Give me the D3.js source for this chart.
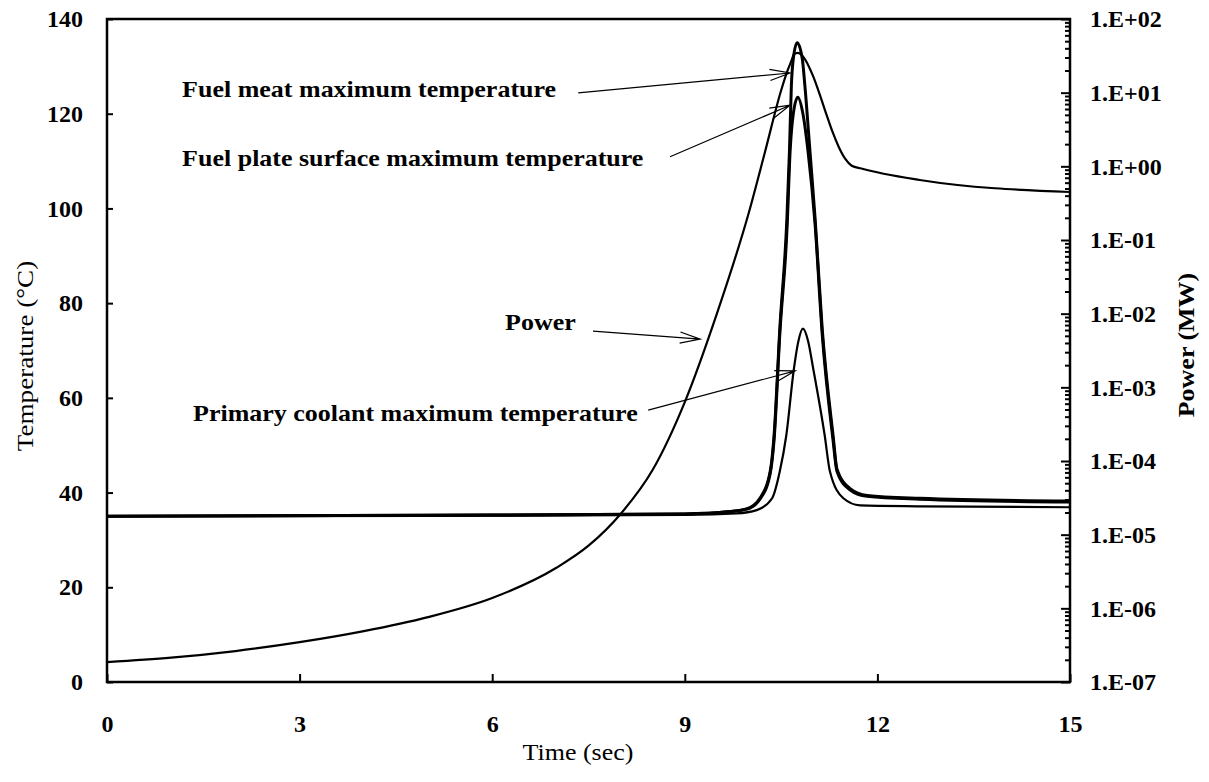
<!DOCTYPE html>
<html>
<head>
<meta charset="utf-8">
<script src="https://cdn.jsdelivr.net/npm/d3@7"></script>
<style>
  body { margin: 0; background: #fff; }
  text { font-family: 'Liberation Serif', 'Times New Roman', serif; fill: #000; }
</style>
</head>
<body>
<svg></svg>
<script>
// tick values
const timeTicks = [0, 3, 6, 9, 12, 15]
const tempTicks = [0, 20, 40, 60, 80, 100, 120, 140]
const powerTicks = [1e-7, 1e-6, 1e-5, 1e-4, 1e-3, 1e-2, 1e-1, 1e0, 1e1, 1e2]

// fuel meat maximum temperature (deg C)
const meatTime = [0, 5, 9, 9.7, 9.97, 10.17, 10.33, 10.39, 10.48, 10.59, 10.63, 10.66, 10.69, 10.75, 10.83, 10.87, 10.95, 11.03, 11.14, 11.31, 11.37, 11.57, 11.84, 12.66, 15]
const meatTemp = [35, 35.2, 35.5, 36, 36.6, 38.8, 44.5, 52, 74.6, 97.8, 112, 126, 131.6, 135, 131.6, 126, 112, 97.8, 74.6, 52, 45, 40.9, 39.4, 38.8, 38.2]

// fuel plate surface maximum temperature (deg C)
const surfTime = [0, 5, 9, 9.7, 9.97, 10.17, 10.33, 10.39, 10.48, 10.595, 10.64, 10.69, 10.76, 10.84, 10.92, 11.03, 11.14, 11.31, 11.37, 11.57, 11.84, 12.66, 15]
const surfTemp = [35, 35.2, 35.5, 36, 36.5, 38.6, 44, 51, 73.5, 96.5, 112, 120, 123.5, 120, 112, 96.5, 73.5, 51, 44.5, 40.6, 39.2, 38.6, 38.0]

// primary coolant maximum temperature (deg C)
const coolTime = [0, 5, 9, 9.8, 10.12, 10.36, 10.48, 10.58, 10.70, 10.77, 10.84, 10.92, 11.0, 11.18, 11.26, 11.47, 11.73, 12.66, 15]
const coolTemp = [35, 35.1, 35.3, 35.6, 36.3, 38.8, 44.5, 52, 66.2, 72, 74.6, 72, 66.2, 52, 44.5, 38.8, 37.3, 37.1, 36.9]

// power (MW), log scale
const powerTime = [0, 1, 2, 3, 4, 5, 6, 7, 7.5, 8, 8.5, 9, 9.5, 10, 10.25, 10.5, 10.6, 10.66, 10.7, 10.76, 10.84, 10.93, 11.0, 11.1, 11.2, 11.3, 11.4, 11.5, 11.6, 11.75, 12.66, 15]
const powerMW = [1.86e-7, 2.14e-7, 2.63e-7, 3.47e-7, 4.9e-7, 7.59e-7, 1.38e-6, 3.55e-6, 7.08e-6, 1.91e-5, 7.59e-5, 6.31e-4, 1.0e-2, 0.24, 1.58, 10.7, 19.95, 26.9, 33.1, 34.7, 30.9, 22.9, 16.6, 9.55, 5.25, 2.95, 1.82, 1.26, 1.02, 0.933, 0.652, 0.448]

// annotations: label text, label anchor (time, temp), arrow from -> to (time, temp)
const noteText = ['Fuel meat maximum temperature', 'Fuel plate surface maximum temperature', 'Power', 'Primary coolant maximum temperature']
const noteTime = [1.17, 1.17, 6.2, 1.34]
const noteTemp = [123.5, 109.0, 74.3, 55.1]
const arrowFromTime = [7.34, 8.77, 7.57, 8.43]
const arrowFromTemp = [124.4, 110.9, 74.1, 57.4]
const arrowToTime = [10.64, 10.64, 9.24, 10.72]
const arrowToTemp = [128.6, 121.8, 72.4, 65.7]

const w = 1209
const h = 782

const svg = d3.select('svg')
  .attr('width', w)
  .attr('height', h);

const render = () => {
  const margin = {top: 19, right: 139, bottom: 100, left: 107};
  const innerWidth = w - margin.left - margin.right;
  const innerHeight = h - margin.top - margin.bottom;

  const xScale = d3.scaleLinear().domain([0, 15]).range([0, innerWidth])
  const yScale = d3.scaleLinear().domain([0, 140]).range([innerHeight, 0])
  const pScale = d3.scaleLog().domain([1e-7, 1e2]).range([innerHeight, 0])

  const g = svg.append('g')
    .attr('transform', `translate(${margin.left}, ${margin.top})`);

  // stretched text helper (scan font is wide)
  const label = (parent, x, y, txt, opts = {}) => {
    const sx = opts.sx || 1.13
    const rot = opts.rotate ? ' rotate(-90)' : ''
    return parent.append('text')
      .attr('transform', `translate(${x}, ${y})${rot} scale(${sx}, 1)`)
      .attr('font-size', opts.size || 23)
      .attr('font-weight', opts.weight || 'bold')
      .attr('text-anchor', opts.anchor || 'start')
      .attr('dy', opts.dy || 0)
      .text(txt)
  }

  // left axis
  const yAxisG = g.append('g').call(d3.axisLeft(yScale)
    .tickValues(tempTicks).tickSize(-6).tickPadding(24))
  yAxisG.select('.domain').remove()
  yAxisG.selectAll('text').attr('font-size', 24).attr('font-weight', 'bold')
    .attr('font-family', 'Liberation Serif')

  // bottom axis
  const xAxisG = g.append('g').call(d3.axisBottom(xScale)
    .tickValues(timeTicks).tickSize(-8).tickPadding(33))
    .attr('transform', `translate(0, ${innerHeight})`)
  xAxisG.select('.domain').remove()
  xAxisG.selectAll('text').attr('font-size', 24).attr('font-weight', 'bold')
    .attr('font-family', 'Liberation Serif')

  // right log axis, minor ticks first
  const minor = []
  powerTicks.slice(0, -1).forEach(p => { for (let k = 2; k <= 9; k++) minor.push(p * k) })
  const pMinorG = g.append('g').call(d3.axisRight(pScale)
    .tickValues(minor).tickSize(-5).tickFormat(''))
    .attr('transform', `translate(${innerWidth}, 0)`)
  pMinorG.select('.domain').remove()

  const powerFmt = p => {
    const e = Math.round(Math.log10(p))
    return '1.E' + (e < 0 ? '-' : '+') + String(Math.abs(e)).padStart(2, '0')
  }
  const pAxisG = g.append('g').call(d3.axisRight(pScale)
    .tickValues(powerTicks).tickSize(-9).tickPadding(20).tickFormat(powerFmt))
    .attr('transform', `translate(${innerWidth}, 0)`)
  pAxisG.select('.domain').remove()
  pAxisG.selectAll('text').attr('font-size', 24).attr('font-weight', 'bold')
    .attr('font-family', 'Liberation Serif')

  g.selectAll('.tick line').attr('stroke', '#000').attr('stroke-width', 2)

  // frame
  g.append('rect')
    .attr('width', innerWidth).attr('height', innerHeight)
    .attr('fill', 'none').attr('stroke', '#000').attr('stroke-width', 2.5)

  // curves
  const tempLine = d3.line()
    .x(d => xScale(d[0]))
    .y(d => yScale(d[1]))
    .curve(d3.curveMonotoneX)

  const powerLine = d3.line()
    .x(d => xScale(d[0]))
    .y(d => pScale(d[1]))
    .curve(d3.curveMonotoneX)

  const series = [
    {t: coolTime, v: coolTemp, width: 2.2},
    {t: surfTime, v: surfTemp, width: 3},
    {t: meatTime, v: meatTemp, width: 3}
  ]
  series.forEach(s => {
    g.append('path')
      .attr('d', tempLine(s.t.map((t, i) => [t, s.v[i]])))
      .attr('fill', 'none').attr('stroke', '#000')
      .attr('stroke-width', s.width)
  })

  g.append('path')
    .attr('d', powerLine(powerTime.map((t, i) => [t, powerMW[i]])))
    .attr('fill', 'none').attr('stroke', '#000').attr('stroke-width', 2.2)

  // annotations
  const arrowPath = (x1, y1, x2, y2) => {
    const a = Math.atan2(y2 - y1, x2 - x1)
    const L = 21, s = 0.27
    return `M${x1},${y1}L${x2},${y2}` +
      `M${x2 - L * Math.cos(a - s)},${y2 - L * Math.sin(a - s)}L${x2},${y2}` +
      `L${x2 - L * Math.cos(a + s)},${y2 - L * Math.sin(a + s)}`
  }
  noteText.forEach((txt, i) => {
    label(g, xScale(noteTime[i]), yScale(noteTemp[i]), txt)
    g.append('path')
      .attr('d', arrowPath(xScale(arrowFromTime[i]), yScale(arrowFromTemp[i]),
        xScale(arrowToTime[i]), yScale(arrowToTemp[i])))
      .attr('fill', 'none').attr('stroke', '#000').attr('stroke-width', 1.2)
  })

  // axis titles
  label(svg, 578, 760, 'Time (sec)', {weight: 'normal', anchor: 'middle'})
  label(svg, 25, 356, 'Temperature (°C)', {weight: 'normal', anchor: 'middle', rotate: true, dy: '0.35em', sx: 1.18})
  label(svg, 1186, 345, 'Power (MW)', {anchor: 'middle', rotate: true, dy: '0.35em'})
}

render();
</script>
</body>
</html>
